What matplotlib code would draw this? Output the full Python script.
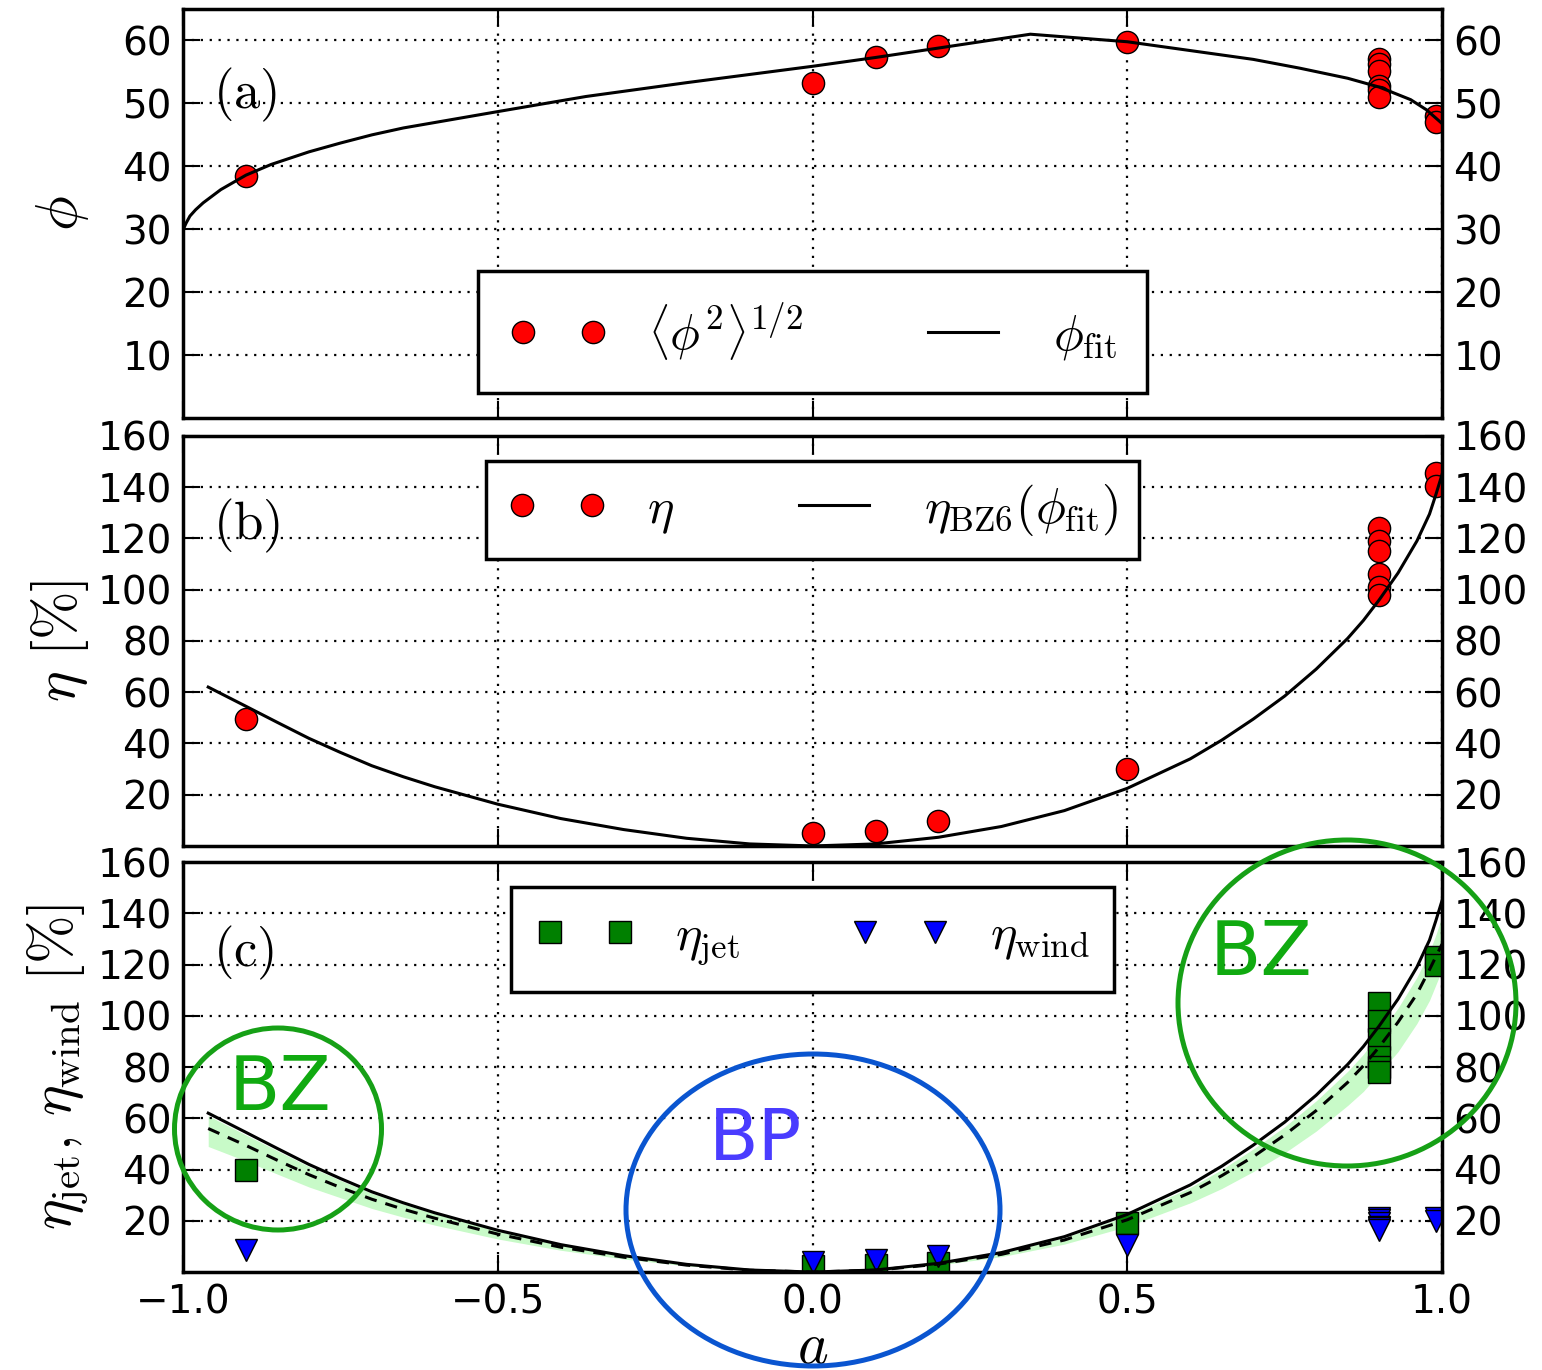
import numpy as np
import matplotlib
matplotlib.use("Agg")
import matplotlib.pyplot as plt
from matplotlib.patches import Ellipse

plt.rcParams['mathtext.fontset'] = 'cm'
plt.rcParams['font.family'] = 'DejaVu Sans'

# simulation points (one entry per model)
spin = [-0.9, 0.0, 0.1, 0.2, 0.5, 0.9, 0.9, 0.9, 0.9, 0.9, 0.9, 0.99, 0.99]
phi = [38.4, 53.2, 57.4, 59.2, 59.8, 57.0, 56.3, 55.2, 52.8, 52.2, 51.0, 48.0, 47.0]
eta = [49.5, 5.0, 5.8, 9.8, 30.0, 124, 119, 115, 106, 101, 98, 145.4, 140.4]
eta_jet = [40, 2.3, 2.7, 3.5, 19.0, 105, 98, 91, 84, 80, 78, 123, 120]
eta_wind = [8.5, 4.0, 4.6, 6.2, 10.5, 21, 20.5, 19, 17.5, 17, 16.5, 21, 20]

# phi fit curve
a_fit = [-1.0, -0.995, -0.989, -0.98, -0.968, -0.94, -0.9, -0.86, -0.8, -0.75,
         -0.7, -0.65, -0.5, -0.36, -0.2, 0.0, 0.1, 0.2, 0.346, 0.5, 0.6, 0.7, 0.774,
         0.85, 0.9, 0.95, 0.975, 1.0]
phi_fit = [29.9, 31.0, 32.1, 33.1, 34.2, 36.3, 38.6, 40.3, 42.3, 43.7,
           45.0, 46.1, 48.7, 51.1, 53.3, 55.9, 57.3, 58.8, 61.0, 59.8, 58.4, 57.0, 55.6,
           54.0, 52.6, 50.6, 49.0, 46.8]

# BZ6 efficiency curves
a_bz = [-0.96, -0.9, -0.85, -0.8, -0.75, -0.7, -0.65, -0.6, -0.5, -0.4, -0.3, -0.2, -0.1,
        0.0, 0.1, 0.2, 0.3, 0.4, 0.5, 0.6, 0.65, 0.7, 0.75, 0.8, 0.85, 0.875, 0.9,
        0.93, 0.96, 0.98, 0.99, 1.0]
eta_bz = [62, 54.5, 48.2, 42, 36.5, 31.3, 27, 23.1, 16.3, 10.7, 6.4, 3.0, 0.8,
          0.0, 0.8, 3.4, 7.6, 13.8, 22.5, 34, 41.3, 49.5, 58.5, 69, 81, 88, 96,
          106.5, 119, 129.5, 137, 145]
eta_bz_dash = [56, 49.4, 43.6, 38, 33, 28.4, 24.5, 21, 14.8, 9.7, 5.8, 2.7, 0.7,
               0.0, 0.7, 3.1, 6.9, 12.5, 20.4, 31, 37.6, 45, 53.5, 63, 74, 80.5, 87.8,
               97.5, 108.5, 118, 123, 128]
band_lo = [49, 43.3, 38.2, 33.2, 29, 24.8, 21.4, 18.3, 12.9, 8.5, 5.1, 2.4, 0.6,
           0, 0.6, 2.7, 6.0, 10.9, 17.8, 27, 32.6, 39.2, 46.5, 55, 65, 70.5, 77.5,
           86, 97, 106, 112, 118]
band_hi = [61, 53.5, 47.3, 41.2, 35.8, 30.7, 26.5, 22.7, 16.0, 10.5, 6.3, 2.9, 0.8,
           0, 0.8, 3.3, 7.4, 13.4, 21.9, 33, 40, 48, 56.7, 66.8, 78.3, 85, 93,
           103, 115, 125, 131.5, 139]

fig = plt.figure(figsize=(15.42, 13.70), dpi=100)
left, width = 0.1187, 0.8165
ax1 = fig.add_axes([left, 0.6949, width, 0.2985])
ax2 = fig.add_axes([left, 0.3825, width, 0.2993])
ax3 = fig.add_axes([left, 0.0715, width, 0.2993])


def style(ax, yt, ymax, bottom_labels=False):
    ax.set_xlim(-1, 1)
    ax.set_ylim(0, ymax)
    ax.set_xticks([-1, -0.5, 0, 0.5, 1])
    ax.set_yticks(yt)
    ax.grid(True, color='k', linestyle=(0, (1, 3)), linewidth=1.6)
    ax.tick_params(direction='in', top=True, right=True, labelright=True,
                   labelbottom=bottom_labels, length=12, width=1.5,
                   labelsize=28, pad=8)
    for s in ax.spines.values():
        s.set_linewidth(2.5)
    ax.yaxis.set_label_coords(-0.073, 0.5)


def legend(ax, loc, bpad):
    leg = ax.legend(loc=loc, ncol=2, numpoints=2, fontsize=36, handlelength=2.0,
                    handletextpad=0.8, columnspacing=2.2, borderpad=bpad,
                    fancybox=False, framealpha=1, edgecolor='k')
    leg.get_frame().set_linewidth(2.5)


# (a)
ax1.plot(spin, phi, 'o', color='r', mec='k', ms=16, label=r'$\left\langle\phi^2\right\rangle^{1/2}$')
ax1.plot(a_fit, phi_fit, 'k-', lw=2.2, label=r'$\phi_{\rm fit}$')
style(ax1, range(10, 61, 10), 65)
ax1.set_ylabel(r'$\phi$', fontsize=42)
ax1.text(0.024, 0.79, r'$\mathrm{(a)}$', transform=ax1.transAxes, fontsize=38, va='center')
legend(ax1, 'lower center', 0.6)

# (b)
ax2.plot(spin, eta, 'o', color='r', mec='k', ms=16, label=r'$\eta$')
ax2.plot(a_bz, eta_bz, 'k-', lw=2.2, label=r'$\eta_{\rm BZ6}(\phi_{\rm fit})$')
style(ax2, range(20, 161, 20), 160)
ax2.set_ylabel(r'$\eta\ [\%]$', fontsize=42)
ax2.text(0.024, 0.78, r'$\mathrm{(b)}$', transform=ax2.transAxes, fontsize=38, va='center')
legend(ax2, 'upper center', 0.42)

# (c)
ax3.fill_between(a_bz, band_lo, band_hi, color='#c8fac8', lw=0)
ax3.plot(spin, eta_jet, 's', color='g', mec='k', ms=16, label=r'$\eta_{\rm jet}$')
ax3.plot(spin, eta_wind, 'v', color='b', mec='k', ms=16, label=r'$\eta_{\rm wind}$')
ax3.plot(a_bz, eta_bz, 'k-', lw=2.2)
ax3.plot(a_bz, eta_bz_dash, color='k', linestyle=(0, (4, 3)), lw=2.2)
style(ax3, range(20, 161, 20), 160, bottom_labels=True)
ax3.set_ylabel(r'$\eta_{\rm jet},\,\eta_{\rm wind}\ [\%]$', fontsize=42)
ax3.set_xlabel(r'$a$', fontsize=42, labelpad=-2)
ax3.text(0.024, 0.778, r'$\mathrm{(c)}$', transform=ax3.transAxes, fontsize=38, va='center')
legend(ax3, 'upper center', 0.49)

# hand-drawn style annotations, in figure pixels
ov = fig.add_axes([0, 0, 1, 1], zorder=10)
ov.set_xlim(0, 1542)
ov.set_ylim(1370, 0)
ov.axis('off')
ov.patch.set_alpha(0)
green = '#16a016'
ov.add_patch(Ellipse((278, 1129), 207, 202, fill=False, ec=green, lw=3.6))
ov.add_patch(Ellipse((1347, 1003), 338, 326, fill=False, ec=green, lw=3.6))
ov.add_patch(Ellipse((813, 1210), 374, 312, fill=False, ec='#0a55d0', lw=3.6))
ov.text(280, 1110, 'BZ', color='#10aa10', fontsize=54, ha='center', va='baseline')
ov.text(1261, 975, 'BZ', color='#10aa10', fontsize=54, ha='center', va='baseline')
ov.text(756, 1160, 'BP', color='#4a3cff', fontsize=52, ha='center', va='baseline')

fig.savefig('out.png', dpi=100)
